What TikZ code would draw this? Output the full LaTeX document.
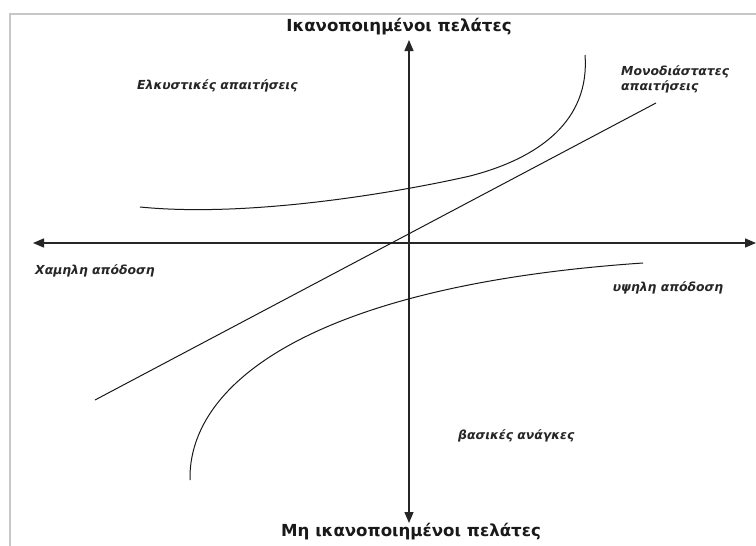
\documentclass[tikz,border=0pt]{standalone}
\usepackage{fontspec}
\setmainfont{DejaVu Sans}
\usetikzlibrary{arrows.meta}
\begin{document}
\begin{tikzpicture}[x=1pt,y=-1pt,
  axis/.style={line width=1.4pt,draw=black!85,
    -{Triangle[length=11pt,width=9pt]}},
  curve/.style={line width=1pt,draw=black!90},
  title/.style={font=\bfseries\fontsize{16.6}{19}\selectfont,text=black!90,inner sep=0pt},
  zone/.style={font=\bfseries\itshape\fontsize{12.4}{15}\selectfont,text=black!85,inner sep=0pt,align=left}]
  % canvas and frame
  \useasboundingbox (0,0) rectangle (756,546);
  \fill[white] (0,0) rectangle (756,546);
  \draw[line width=1.5pt,draw=black!22] (10,560) -- (10,14) -- (770,14);

  % axes
  \coordinate (o) at (409,243);
  \coordinate (top) at (409,40);
  \coordinate (bot) at (409,523);
  \coordinate (lft) at (33,243);
  \coordinate (rgt) at (756,243);
  \draw[axis] (o) -- (top);
  \draw[axis] (o) -- (bot);
  \draw[axis] (o) -- (lft);
  \draw[axis] (o) -- (rgt);

  % axis titles
  \node[title] (ttop) at (399,27) {Ικανοποιημένοι πελάτες};
  \node[title] (tbot) at (411,532) {Μη ικανοποιημένοι πελάτες};

  % one-dimensional requirements: straight line
  \coordinate (l1) at (95,400);
  \coordinate (l2) at (656,103);
  \draw[curve] (l1) -- (l2);

  % attractive requirements curve
  \coordinate (a1) at (140,207);
  \coordinate (a2) at (470,176);
  \coordinate (a3) at (585,55);
  \draw[curve] (a1) .. controls (250,218) and (400,192) .. (a2)
                    .. controls (540,158) and (590,120) .. (a3);

  % basic needs curve
  \coordinate (b1) at (190,480);
  \coordinate (b2) at (643,263);
  \draw[curve] (b1) .. controls (188,380) and (320,285) .. (b2);

  % zone labels
  \node[zone,anchor=west] (attr) at (137,86) {Ελκυστικές απαιτήσεις};
  \node[zone,anchor=north west] (mono) at (621,65) {Μονοδιάστατες\\απαιτήσεις};
  \node[zone,anchor=west] (low) at (35,271) {Χαμηλη απόδοση};
  \node[zone] (high) at (668,288) {υψηλη απόδοση};
  \node[zone,anchor=west] (basic) at (458,436) {βασικές ανάγκες};
\end{tikzpicture}
\end{document}
